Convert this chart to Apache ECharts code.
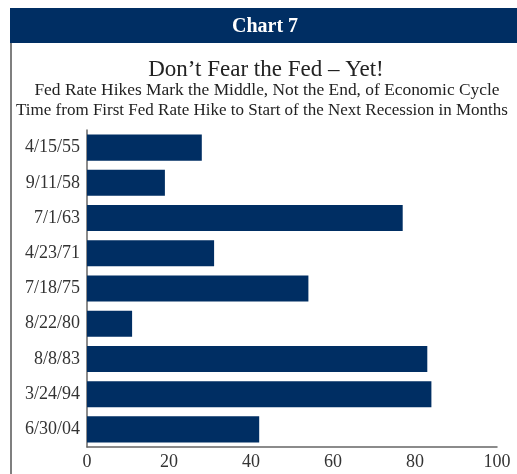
<!DOCTYPE html>
<html>
<head>
<meta charset="utf-8">
<script src="https://cdn.jsdelivr.net/npm/echarts@6/dist/echarts.min.js"></script>
<style>
  html, body { margin: 0; padding: 0; background: #fff; }
  #chart { width: 517px; height: 474px; }
</style>
</head>
<body>
<div id="chart"></div>
<script>
  // start dates of each hiking cycle, top to bottom
  var categories = ['4/15/55', '9/11/58', '7/1/63', '4/23/71', '7/18/75', '8/22/80', '8/8/83', '3/24/94', '6/30/04']
  // months from first hike to next recession
  var months = [28, 19, 77, 31, 54, 11, 83, 84, 42]
  var xTicks = [0, 20, 40, 60, 80, 100]

  var navy = '#002e63'
  var serif = '"Liberation Serif", "DejaVu Serif", serif'

  var myChart = echarts.init(document.getElementById('chart'))
  myChart.setOption({
    animation: false,
    title: [
      {
        text: 'Chart 7',
        left: 265, top: 17, textAlign: 'center', padding: 0,
        textStyle: { color: '#fff', fontFamily: serif, fontSize: 20, fontWeight: 'bold' }
      },
      {
        text: 'Don\u2019t Fear the Fed \u2013 Yet!',
        left: 266, top: 58, textAlign: 'center', padding: 0,
        textStyle: { color: '#222', fontFamily: serif, fontSize: 23, fontWeight: 'normal' }
      },
      {
        text: 'Fed Rate Hikes Mark the Middle, Not the End, of Economic Cycle',
        left: 267, top: 82, textAlign: 'center', padding: 0,
        textStyle: { color: '#222', fontFamily: serif, fontSize: 17.4, fontWeight: 'normal' }
      },
      {
        text: 'Time from First Fed Rate Hike to Start of the Next Recession in Months',
        left: 262, top: 102, textAlign: 'center', padding: 0,
        textStyle: { color: '#222', fontFamily: serif, fontSize: 17, fontWeight: 'normal' }
      }
    ],
    graphic: [
      { type: 'rect', z: -1, shape: { x: 10, y: 8, width: 507, height: 35 }, style: { fill: navy } },
      { type: 'line', shape: { x1: 11, y1: 43, x2: 11, y2: 474 }, style: { stroke: '#555', lineWidth: 1.5 } }
    ],
    grid: { left: 87, right: 20, top: 130, bottom: 27, containLabel: false },
    xAxis: {
      type: 'value',
      min: 0, max: 100, interval: 20,
      splitLine: { show: false },
      axisTick: { show: false },
      axisLine: { show: true, lineStyle: { color: '#666', width: 1.5 } },
      axisLabel: {
        color: '#333', fontFamily: serif, fontSize: 18, margin: 6,
        customValues: xTicks
      }
    },
    yAxis: {
      type: 'category',
      inverse: true,
      data: categories,
      axisTick: { show: false },
      axisLine: { show: true, lineStyle: { color: '#666', width: 1.5 } },
      axisLabel: { color: '#333', fontFamily: serif, fontSize: 18, margin: 7 }
    },
    series: [{
      type: 'bar',
      data: months,
      barCategoryGap: '26%',
      itemStyle: { color: navy }
    }]
  })
</script>
</body>
</html>
